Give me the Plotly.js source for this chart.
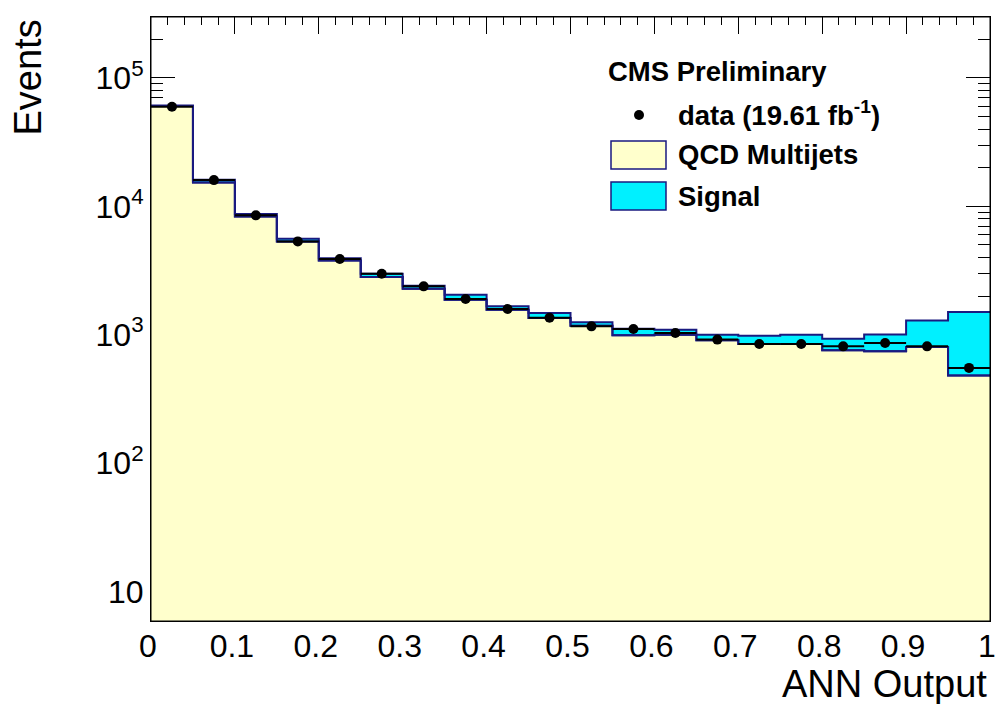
<!DOCTYPE html>
<html>
<head>
<meta charset="utf-8">
<script src="https://cdn.plot.ly/plotly-3.0.1.min.js"></script>
<style>
  html, body { margin: 0; padding: 0; background: #ffffff; }
  #chart { width: 997px; height: 704px; }
</style>
</head>
<body>
<div id="chart"></div>
<script>
// ---- data ----
const binEdges = [0, 0.05, 0.1, 0.15, 0.2, 0.25, 0.3, 0.35, 0.4, 0.45, 0.5,
                  0.55, 0.6, 0.65, 0.7, 0.75, 0.8, 0.85, 0.9, 0.95, 1.0];
const qcdValues = [60600, 15360, 8340, 5330, 3790, 2812, 2281, 1874, 1566, 1349,
                   1175, 988, 1000, 903, 846, 846, 755, 742, 801, 480];
const signalValues = [500, 750, 370, 260, 140, 173, 127, 175, 95, 127,
                      72, 125, 94, 97, 136, 154, 176, 263, 491, 1022];
const dataValues = [59700, 16000, 8500, 5330, 3888, 2985, 2378, 1897, 1585, 1356,
                    1161, 1107, 1030, 915, 846, 846, 811, 861, 811, 551];
const yTickVals = [10, 100, 1000, 10000, 100000];
const yTickText = ['10', '10<sup>2</sup>', '10<sup>3</sup>', '10<sup>4</sup>', '10<sup>5</sup>'];
const legendLabels = ['CMS Preliminary', 'data (19.61 fb<sup>-1</sup>)', 'QCD Multijets', 'Signal'];

// ---- derived ----
const nb = qcdValues.length;
const binCenters = [];
const halfWidth = (binEdges[1] - binEdges[0]) / 2;
for (let i = 0; i < nb; i++) binCenters.push((binEdges[i] + binEdges[i + 1]) / 2);
const totalValues = qcdValues.map((v, i) => v + signalValues[i]);
const stepY = arr => arr.concat([arr[arr.length - 1]]);

const minorY = [];
for (let d = 0; d <= 5; d++) {
  for (let k = 2; k <= 9; k++) minorY.push(k * Math.pow(10, d));
}

const FONT = 'Liberation Sans, Arial, Helvetica, sans-serif';
const YELLOW = '#FFFFCC';
const CYAN = '#00F0FF';
const NAVY = '#1A1A80';

// pixel -> paper helpers (plot area: x 151..990, y 17..621)
const L = 151, R = 990, T = 17, B = 621;
const px = x => (x - L) / (R - L);
const py = y => (B - y) / (B - T);

const traces = [
  {
    x: binEdges, y: stepY(qcdValues), mode: 'lines', type: 'scatter',
    line: { shape: 'hv', color: NAVY, width: 2 },
    fill: 'tozeroy', fillcolor: YELLOW, hoverinfo: 'skip', showlegend: false
  },
  {
    x: binEdges, y: stepY(totalValues), mode: 'lines', type: 'scatter',
    line: { shape: 'hv', color: NAVY, width: 2 },
    fill: 'tonexty', fillcolor: CYAN, hoverinfo: 'skip', showlegend: false
  },
  {
    x: binEdges, y: stepY(qcdValues), mode: 'lines', type: 'scatter',
    line: { shape: 'hv', color: NAVY, width: 2 },
    hoverinfo: 'skip', showlegend: false
  },
  {
    x: binCenters, y: dataValues, mode: 'markers', type: 'scatter',
    marker: { color: 'black', size: 10 },
    error_x: { type: 'constant', value: halfWidth, width: 0, thickness: 2, color: 'black' },
    showlegend: false
  }
];

const axisCommon = {
  showgrid: false, zeroline: false, showline: true, linecolor: 'black', linewidth: 1,
  mirror: 'allticks', ticks: 'inside', tickcolor: 'black', tickwidth: 1,
  layer: 'below traces', ticklabeloverflow: 'allow',
  tickfont: { family: FONT, size: 32, color: 'black' }
};

const legendFont = { family: FONT, size: 27.5, color: 'black' };

const layout = {
  width: 997, height: 704,
  margin: { l: L, r: 997 - R, t: T, b: 704 - B, pad: 0 },
  paper_bgcolor: 'white', plot_bgcolor: 'white',
  showlegend: false,
  xaxis: Object.assign({}, axisCommon, {
    range: [0, 1.000001], tickmode: 'linear', tick0: 0, dtick: 0.1, ticklen: 17,
    ticklabelstandoff: -3, ticklabelshift: -3,
    minor: { dtick: 0.02, ticks: 'inside', ticklen: 8, tickcolor: 'black', tickwidth: 1, showgrid: false }
  }),
  yaxis: Object.assign({}, axisCommon, {
    type: 'log', range: [0.769, 5.475], tickmode: 'array',
    tickvals: yTickVals, ticktext: yTickText, ticklen: 24,
    minor: { tickmode: 'array', tickvals: minorY, ticks: 'inside', ticklen: 12, tickcolor: 'black', tickwidth: 1, showgrid: false }
  }),
  shapes: [
    { type: 'rect', xref: 'paper', yref: 'paper', x0: 0, x1: 1, y0: 0, y1: 1,
      line: { color: 'black', width: 1 }, layer: 'above' },
    { type: 'circle', xref: 'paper', yref: 'paper', x0: px(634), x1: px(644), y0: py(120), y1: py(110),
      fillcolor: 'black', line: { color: 'black', width: 0 }, layer: 'above' },
    { type: 'rect', xref: 'paper', yref: 'paper', x0: px(611), x1: px(666), y0: py(169), y1: py(141),
      fillcolor: YELLOW, line: { color: NAVY, width: 1.5 }, layer: 'above' },
    { type: 'rect', xref: 'paper', yref: 'paper', x0: px(611), x1: px(666), y0: py(210), y1: py(182),
      fillcolor: CYAN, line: { color: NAVY, width: 1.5 }, layer: 'above' }
  ],
  annotations: [
    { text: '<b>' + legendLabels[0] + '</b>', xref: 'paper', yref: 'paper', x: px(606), y: py(72),
      xanchor: 'left', yanchor: 'middle', showarrow: false, font: legendFont },
    { text: '<b>' + legendLabels[1] + '</b>', xref: 'paper', yref: 'paper', x: px(676), y: py(114),
      xanchor: 'left', yanchor: 'middle', showarrow: false, font: legendFont },
    { text: '<b>' + legendLabels[2] + '</b>', xref: 'paper', yref: 'paper', x: px(676), y: py(155),
      xanchor: 'left', yanchor: 'middle', showarrow: false, font: legendFont },
    { text: '<b>' + legendLabels[3] + '</b>', xref: 'paper', yref: 'paper', x: px(676), y: py(196),
      xanchor: 'left', yanchor: 'middle', showarrow: false, font: legendFont },
    { text: 'Events', xref: 'paper', yref: 'paper', x: px(27), y: py(77.5), textangle: -90,
      xanchor: 'center', yanchor: 'middle', showarrow: false, font: { family: FONT, size: 38, color: 'black' } },
    { text: 'ANN Output', xref: 'paper', yref: 'paper', x: px(989), y: py(684),
      xanchor: 'right', yanchor: 'middle', showarrow: false, font: { family: FONT, size: 38, color: 'black' } }
  ]
};

Plotly.newPlot('chart', traces, layout, { staticPlot: true, displayModeBar: false });
</script>
</body>
</html>
